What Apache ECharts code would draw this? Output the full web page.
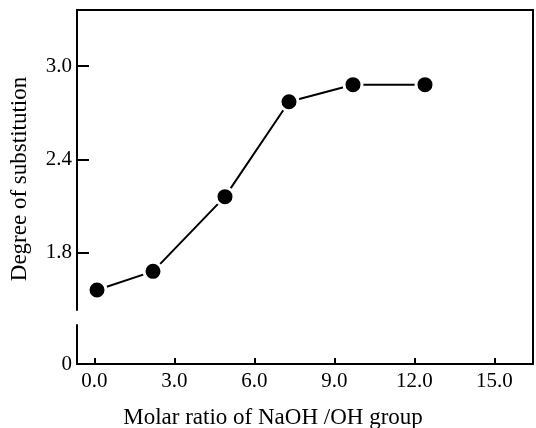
<!DOCTYPE html>
<html>
<head>
<meta charset="utf-8">
<script src="https://cdn.jsdelivr.net/npm/echarts@6/dist/echarts.min.js"></script>
<style>
  html, body { margin: 0; padding: 0; background: #fff; }
  #main { width: 536px; height: 428px; }
</style>
</head>
<body>
<div id="main"></div>
<script>
// values
var molarRatio = [0.1, 2.2, 4.9, 7.3, 9.7, 12.4]
var degreeSub = [1.56, 1.68, 2.16, 2.77, 2.88, 2.88]
var xTicks = [0, 3, 6, 9, 12, 15]
var yTicks = [0, 1.8, 2.4, 3.0]

var font = 'Liberation Serif'
var chart = echarts.init(document.getElementById('main'))

var points = []
for (var i = 0; i < molarRatio.length; i++) {
  points.push([molarRatio[i], degreeSub[i]])
}

var frameLine = { show: true, onZero: false, lineStyle: { color: '#000', width: 2 } }

var options = {
  animation: false,
  grid: {
    left: 77,
    right: 3,
    top: 10,
    bottom: 64,
    outerBoundsMode: 'none'
  },
  xAxis: [
    {
      type: 'value',
      min: -0.65,
      max: 16.45,
      name: 'Molar ratio of NaOH /OH group',
      nameLocation: 'middle',
      nameGap: 42,
      nameMoveOverlap: false,
      nameTextStyle: {
        fontFamily: font, fontSize: 23, color: '#000',
        padding: [0, 64, 0, 0]
      },
      axisLine: frameLine,
      axisTick: {
        inside: true, length: 6, customValues: xTicks,
        lineStyle: { color: '#000', width: 2 }
      },
      axisLabel: {
        customValues: xTicks,
        margin: 7,
        fontFamily: font, fontSize: 21, color: '#000',
        formatter: function (v) { return v.toFixed(1) }
      },
      splitLine: { show: false }
    },
    {
      type: 'value',
      position: 'top',
      min: -0.65,
      max: 16.45,
      axisLine: frameLine,
      axisTick: { show: false },
      axisLabel: { show: false },
      splitLine: { show: false }
    }
  ],
  yAxis: [
    {
      type: 'value',
      min: 0,
      max: 3.36,
      name: 'Degree of substitution',
      nameLocation: 'middle',
      nameGap: 46,
      nameMoveOverlap: false,
      nameTextStyle: {
        fontFamily: font, fontSize: 23, color: '#000',
        padding: [0, 0, 0, 16]
      },
      breaks: [{ start: 0.25, end: 1.43, gap: '4.2%' }],
      breakArea: { show: false },
      axisLine: frameLine,
      axisTick: {
        inside: true, length: 12, customValues: yTicks,
        lineStyle: { color: '#000', width: 2 }
      },
      axisLabel: {
        customValues: yTicks,
        margin: 5,
        fontFamily: font, fontSize: 21, color: '#000',
        formatter: function (v) { return v === 0 ? '0' : v.toFixed(1) }
      },
      splitLine: { show: false }
    },
    {
      type: 'value',
      position: 'right',
      min: 0,
      max: 1,
      axisLine: frameLine,
      axisTick: { show: false },
      axisLabel: { show: false },
      splitLine: { show: false }
    }
  ],
  series: [
    {
      type: 'line',
      data: points,
      symbol: 'circle',
      symbolSize: 18,
      itemStyle: { color: '#000', borderColor: '#fff', borderWidth: 3 },
      lineStyle: { color: '#000', width: 2 },
      z: 3
    }
  ]
}
chart.setOption(options)
</script>
</body>
</html>
